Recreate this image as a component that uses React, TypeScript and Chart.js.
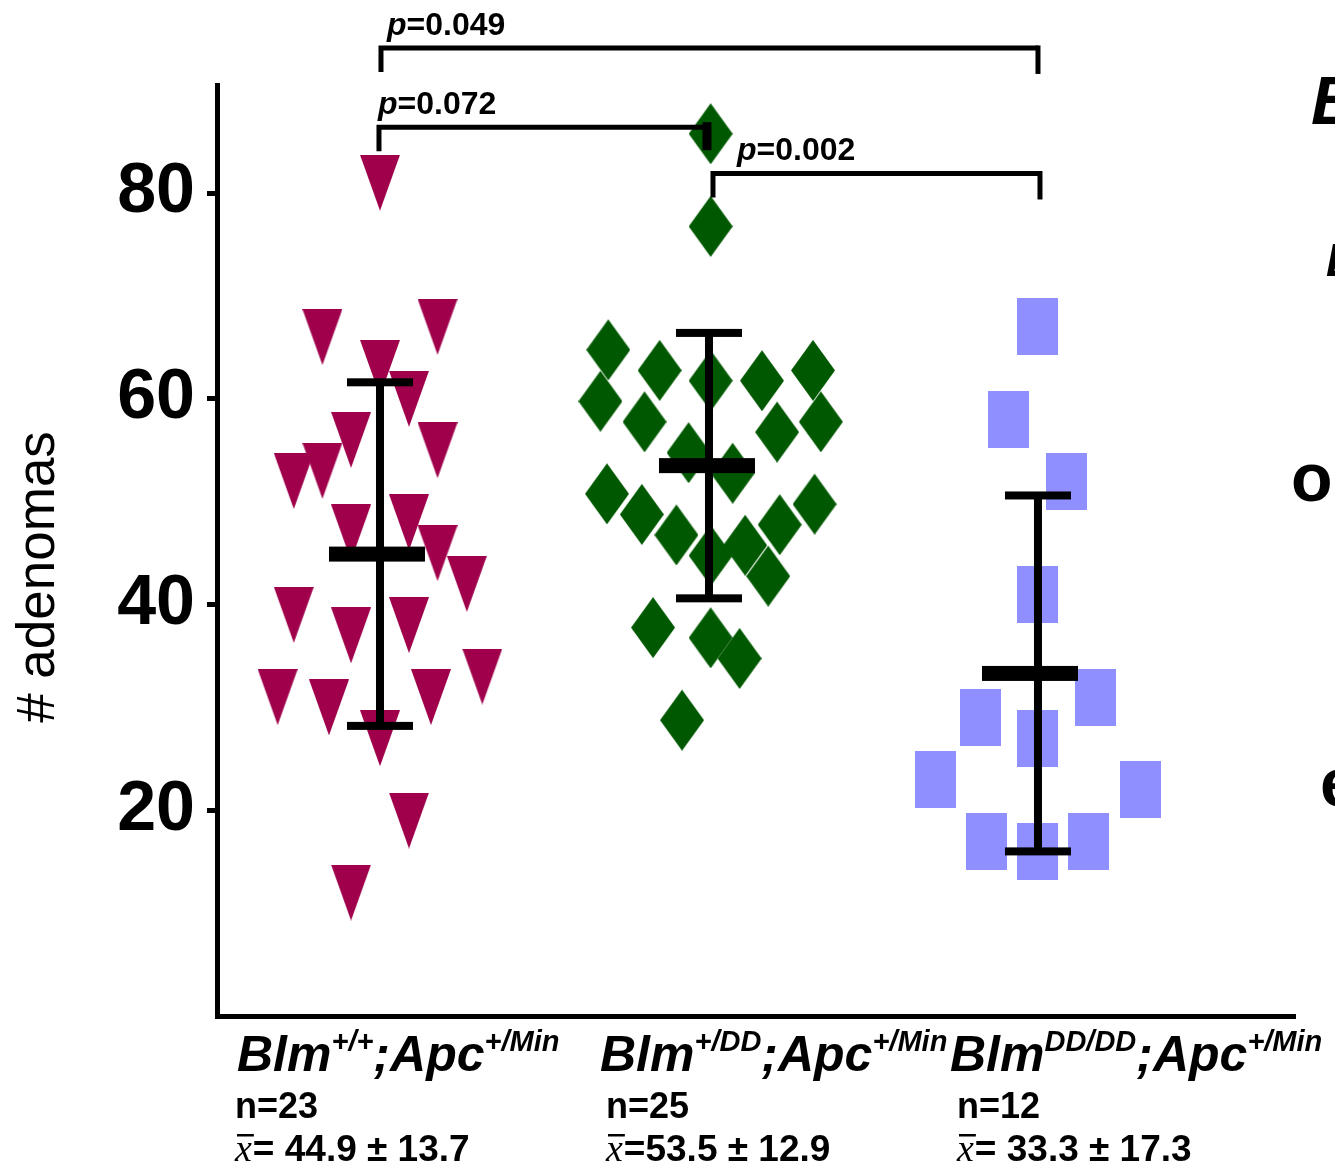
import React, { useEffect, useRef } from 'react';
import { Chart, registerables } from 'chart.js';

Chart.register(...registerables);

// ---------- data ----------
const groupPositions = [1, 2, 3];
const blmSuperscripts = ['+/+', '+/DD', 'DD/DD'];
const apcSuperscript = '+/Min';
const sampleSizes = [23, 25, 12];
const meanValues = [44.9, 53.5, 33.3];
const sdValues = [13.7, 12.9, 17.3];
const meanSeparators = ['= ', '=', '= '];
// half-length of the drawn error bars (as they appear in the figure)
const errorBarHalf = [16.7, 12.9, 17.3];

// Blm+/+;Apc+/Min (inverted triangles)
const wtX = [0.825, 1.175, 1.0, 1.088, 0.912, 1.175, 0.825, 0.738, 0.912, 1.088, 1.175, 1.264, 0.738, 0.912, 1.088, 1.311, 0.689, 0.845, 1.155, 1.0, 1.088, 0.912, 1.0];
const wtY = [66, 67, 63, 60, 56, 55, 53, 52, 47, 48, 45, 42, 39, 37, 38, 33, 31, 30, 31, 27, 19, 12, 81];

// Blm+/DD;Apc+/Min (diamonds)
const hetX = [2.005, 2.005, 1.694, 1.85, 2.005, 2.161, 2.316, 1.67, 1.804, 1.938, 2.072, 2.207, 2.34, 1.69, 1.796, 1.901, 2.005, 2.11, 2.18, 2.215, 2.321, 1.83, 2.005, 2.093, 1.918];
const hetY = [86, 77, 65, 63, 62, 62, 63, 60, 58, 55, 53, 57, 58, 51, 49, 47, 45, 46, 43, 48, 50, 38, 37, 35, 29];

// BlmDD/DD;Apc+/Min (squares)
const homX = [3.0, 2.911, 3.087, 3.0, 3.174, 2.824, 3.0, 2.688, 3.311, 2.843, 3.0, 3.155];
const homY = [67, 58, 52, 41, 31, 29, 27, 23, 22, 17, 16, 17];

const yTickValues = [20, 40, 60, 80];

// significance brackets
const bracketFrom = [1, 1, 2];
const bracketTo = [3, 2, 3];
const pValues = ['0.049', '0.072', '0.002'];

// ---------- style / layout ----------
const WT_COLOR = '#a0004b';
const HET_COLOR = '#005900';
const HOM_COLOR = '#8f8fff';
const FONT = '"Liberation Sans", Arial, sans-serif';
const bracketLevels = [94.1, 86.4, 81.9];
const bracketLeftShift = [1, -1, 4];
const bracketRightShift = [0, 0, 2];
const bracketTextDx = [6, -1, 24];
const meanBarShift = [-3, -2, -8];
const labelDx = [-143, -109, -88];
const infoDx = [-145, -103, -81];

export default function App() {
  const ref = useRef<HTMLCanvasElement>(null);

  useEffect(() => {
    document.body.style.margin = '0';
    const canvas = ref.current;
    if (!canvas) return;

    const mk = (w: number, h: number, draw: (g: CanvasRenderingContext2D) => void) => {
      const c = document.createElement('canvas');
      c.width = w;
      c.height = h;
      const g = c.getContext('2d')!;
      draw(g);
      return c;
    };
    const tri = mk(40, 56, (g) => {
      g.fillStyle = WT_COLOR;
      g.beginPath();
      g.moveTo(0, 0);
      g.lineTo(40, 0);
      g.lineTo(20, 56);
      g.closePath();
      g.fill();
    });
    const dia = mk(44, 66, (g) => {
      g.fillStyle = HET_COLOR;
      g.beginPath();
      g.moveTo(22, 5);
      g.lineTo(44, 35.5);
      g.lineTo(22, 66);
      g.lineTo(0, 35.5);
      g.closePath();
      g.fill();
    });
    const sq = mk(41, 57, (g) => {
      g.fillStyle = HOM_COLOR;
      g.fillRect(0, 0, 41, 57);
    });

    const overlay = {
      id: 'overlay',
      afterDatasetsDraw(chart: any) {
        const { ctx, scales } = chart;
        const xs = scales.x;
        const ys = scales.y;
        ctx.save();
        ctx.fillStyle = '#000';
        groupPositions.forEach((g, i) => {
          const cx = xs.getPixelForValue(g);
          const yHi = ys.getPixelForValue(meanValues[i] + errorBarHalf[i]);
          const yLo = ys.getPixelForValue(meanValues[i] - errorBarHalf[i]);
          const yM = ys.getPixelForValue(meanValues[i]);
          ctx.fillRect(cx - 4, yHi, 8, yLo - yHi);
          ctx.fillRect(cx - 33, yHi - 4, 66, 8);
          ctx.fillRect(cx - 33, yLo - 4, 66, 8);
          ctx.fillRect(cx - 48 + meanBarShift[i], yM - 7.5, 96, 15);
        });
        ctx.restore();
      },
      afterDraw(chart: any) {
        const { ctx, scales } = chart;
        const xs = scales.x;
        const ys = scales.y;
        ctx.save();
        ctx.fillStyle = '#000';
        ctx.strokeStyle = '#000';
        ctx.textBaseline = 'alphabetic';

        // significance brackets
        pValues.forEach((p, i) => {
          const x1 = xs.getPixelForValue(bracketFrom[i]) + bracketLeftShift[i];
          const x2 = xs.getPixelForValue(bracketTo[i]) + bracketRightShift[i];
          const y = ys.getPixelForValue(bracketLevels[i]);
          ctx.lineWidth = 5;
          ctx.lineCap = 'butt';
          ctx.beginPath();
          ctx.moveTo(x1, y + 24);
          ctx.lineTo(x1, y);
          ctx.lineTo(x2, y);
          ctx.stroke();
          ctx.lineWidth = i === 1 ? 9 : 5;
          ctx.beginPath();
          ctx.moveTo(x2 - (i === 1 ? 2 : 0), y - (i === 1 ? 5 : 2.5));
          ctx.lineTo(x2 - (i === 1 ? 2 : 0), y + (i === 1 ? 23 : 26));
          ctx.stroke();
          const tx = x1 + bracketTextDx[i];
          const ty = y - 13;
          ctx.textAlign = 'left';
          ctx.font = `italic bold 32px ${FONT}`;
          ctx.fillText('p', tx, ty);
          const pw = ctx.measureText('p').width;
          ctx.font = `bold 32px ${FONT}`;
          ctx.fillText('=' + p, tx + pw, ty);
        });

        // category labels
        const baseY = chart.chartArea.bottom;
        groupPositions.forEach((g, i) => {
          const cx = xs.getPixelForValue(g);
          let x = cx + labelDx[i];
          const by = baseY + 55;
          const parts: [string, boolean][] = [
            ['Blm', false],
            [blmSuperscripts[i], true],
            [';Apc', false],
            [apcSuperscript, true],
          ];
          ctx.textAlign = 'left';
          parts.forEach(([t, sup]) => {
            ctx.font = sup ? `italic bold 29px ${FONT}` : `italic bold 50px ${FONT}`;
            ctx.fillText(t, x, sup ? by - 20 : by);
            x += ctx.measureText(t).width;
          });
          const ix = cx + infoDx[i];
          ctx.font = `bold 36px ${FONT}`;
          ctx.fillText('n=' + sampleSizes[i], ix, baseY + 102);
          // x-bar: italic x with an overline
          const ly = baseY + 145;
          ctx.font = `italic 38px "Liberation Serif", serif`;
          ctx.fillText('x', ix, ly);
          const xw = ctx.measureText('x').width;
          ctx.fillRect(ix + 2, ly - 27, xw, 2.5);
          ctx.font = `bold 37px ${FONT}`;
          ctx.fillText(
            meanSeparators[i] + meanValues[i].toFixed(1) + ' ± ' + sdValues[i].toFixed(1),
            ix + xw + 1,
            ly
          );
        });

        // y-axis title
        ctx.save();
        ctx.translate(54, 577);
        ctx.rotate(-Math.PI / 2);
        ctx.textAlign = 'center';
        ctx.font = `53px ${FONT}`;
        ctx.fillText('# adenomas', 0, 0);
        ctx.restore();

        // clipped text fragments at right edge
        ctx.textAlign = 'left';
        ctx.font = `italic bold 68px ${FONT}`;
        ctx.fillText('B', 1311, 124);
        ctx.font = `italic bold 46px ${FONT}`;
        ctx.fillText('B', 1326, 276);
        ctx.font = `bold 68px ${FONT}`;
        ctx.fillText('o', 1291, 501);
        ctx.fillText('e', 1320, 806);
        ctx.restore();
      },
    };

    const chart = new Chart(canvas, {
      type: 'scatter',
      data: {
        datasets: [
          { label: 'Blm+/+;Apc+/Min', data: wtX.map((x, i) => ({ x, y: wtY[i] })), pointStyle: tri as any, pointRadius: 20, pointHoverRadius: 20 },
          { label: 'Blm+/DD;Apc+/Min', data: hetX.map((x, i) => ({ x, y: hetY[i] })), pointStyle: dia as any, pointRadius: 20, pointHoverRadius: 20 },
          { label: 'BlmDD/DD;Apc+/Min', data: homX.map((x, i) => ({ x, y: homY[i] })), pointStyle: sq as any, pointRadius: 20, pointHoverRadius: 20 },
        ],
      },
      options: {
        responsive: false,
        animation: false,
        devicePixelRatio: 1,
        events: [],
        layout: { padding: { top: 85, right: 40, left: 0, bottom: 0 } },
        plugins: { legend: { display: false }, tooltip: { enabled: false }, title: { display: false } },
        scales: {
          x: {
            type: 'linear',
            min: 0.5046,
            max: 3.7812,
            ticks: { display: false },
            grid: { display: false },
            border: { display: true, width: 5, color: '#000' },
            afterFit: (s: any) => {
              s.height = 151;
            },
          },
          y: {
            min: 0,
            max: 90.5,
            afterBuildTicks: (s: any) => {
              s.ticks = yTickValues.map((v) => ({ value: v }));
            },
            ticks: { color: '#000', font: { family: FONT, size: 70, weight: 'bold' }, padding: 12 },
            grid: { display: true, drawOnChartArea: false, drawTicks: true, tickLength: 10, lineWidth: 5, color: '#000' },
            border: { display: true, width: 5, color: '#000' },
            afterFit: (s: any) => {
              s.width = 217;
            },
          },
        },
      },
      plugins: [overlay],
    });

    return () => chart.destroy();
  }, []);

  return (
    <div style={{ width: 1335, height: 1167, background: '#fff' }}>
      <canvas ref={ref} width={1335} height={1167} style={{ display: 'block' }} />
    </div>
  );
}
